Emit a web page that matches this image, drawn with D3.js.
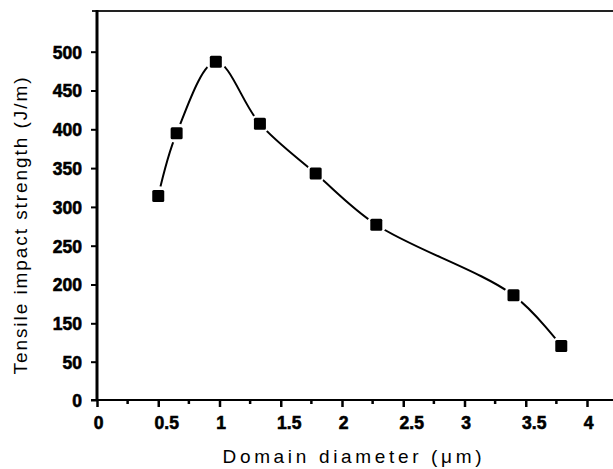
<!DOCTYPE html>
<head>
  <meta charset="utf-8">
  <script src="https://d3js.org/d3.v7.min.js"></script>
  <style>
    body { margin:0; background: white; }
    .tickText { font-family: 'Liberation Sans', Arial, sans-serif; font-weight: 700; font-size: 17.5px; fill: black; stroke: black; stroke-width: 0.6px; }
    .axisTitle { font-family: 'Liberation Sans', Arial, sans-serif; font-size: 19px; fill: black; }
  </style>
</head>
<body>
  <script>
    // data
    const diameter = [0.5, 0.65, 0.97, 1.33, 1.785, 2.28, 3.40, 3.79];
    const strength = [314, 395, 487, 407, 343, 277, 186, 91];

    // tick labels (the y axis is broken between 50 and 150)
    const xTicks = [0, 0.5, 1, 1.5, 2, 2.5, 3, 3.5, 4];
    const xMinorTicks = [0.25, 0.75, 1.25, 1.75, 2.25, 2.75, 3.25, 3.75];
    const yTicks = [0, 50, 150, 200, 250, 300, 350, 400, 450, 500];

    const width = 613, height = 469;

    const svg = d3.select('body')
                  .append('svg')
                  .attr('width', width)
                  .attr('height', height);

    // scales
    const x = d3.scaleLinear()
                .domain([0, 4])
                .range([97, 587]);

    // piecewise scale so 0 / 50 / 150 sit one tick step apart
    const y = d3.scaleLinear()
                .domain([0, 50, 150, 500])
                .range([400, 361.7, 323.3, 51.7]);

    // frame lines: top line, y axis, x axis
    svg.append('line')
       .attr('x1', 92).attr('x2', width)
       .attr('y1', 11).attr('y2', 11)
       .style('stroke', '#222').style('stroke-width', 2);

    svg.append('line')
       .attr('x1', x(0)).attr('x2', x(0))
       .attr('y1', 10).attr('y2', y(0) + 1)
       .style('stroke', 'black').style('stroke-width', 3);

    svg.append('line')
       .attr('x1', 91).attr('x2', width)
       .attr('y1', y(0)).attr('y2', y(0))
       .style('stroke', 'black').style('stroke-width', 2);

    // y axis ticks + labels
    const yAxis = d3.axisLeft(y)
                    .tickValues(yTicks)
                    .tickSize(6)
                    .tickPadding(9)
                    .tickFormat(d3.format('d'));
    const gy = svg.append('g')
                  .attr('transform', `translate(${x(0)},0)`)
                  .call(yAxis);
    gy.select('.domain').remove();
    gy.selectAll('.tick line').style('stroke', 'black').style('stroke-width', 2);
    gy.selectAll('.tick text').attr('class', 'tickText').attr('dy', '0.36em');

    // x axis, major ticks
    const xAxis = d3.axisBottom(x)
                    .tickValues(xTicks)
                    .tickSize(7)
                    .tickPadding(5)
                    .tickFormat(d => d);
    const gx = svg.append('g')
                  .attr('transform', `translate(0,${y(0)})`)
                  .call(xAxis);
    gx.select('.domain').remove();
    gx.selectAll('.tick line').style('stroke', 'black').style('stroke-width', 2.5);
    gx.selectAll('.tick text')
      .attr('class', 'tickText')
      .attr('dy', '0.95em')
      .attr('dx', d => Number.isInteger(d) ? 1 : 8);

    // x axis, minor ticks
    svg.append('g')
       .selectAll('line')
       .data(xMinorTicks)
       .enter()
       .append('line')
       .attr('x1', d => x(d)).attr('x2', d => x(d))
       .attr('y1', y(0)).attr('y2', y(0) + 4)
       .style('stroke', 'black').style('stroke-width', 2.5);

    // axis titles
    svg.append('text')
       .attr('class', 'axisTitle')
       .attr('x', 352).attr('y', 463)
       .attr('text-anchor', 'middle')
       .attr('textLength', 259)
       .attr('lengthAdjust', 'spacing')
       .text('Domain diameter (μm)');

    svg.append('text')
       .attr('class', 'axisTitle')
       .attr('transform', 'translate(27, 226) rotate(-90)')
       .attr('text-anchor', 'middle')
       .attr('textLength', 297)
       .attr('lengthAdjust', 'spacing')
       .text('Tensile impact strength (J/m)');

    // smoothed line through the points
    const points = diameter.map((d, i) => ({ x: d, y: strength[i] }));

    const line = d3.line()
                   .x(d => x(d.x))
                   .y(d => y(d.y))
                   .curve(d3.curveCatmullRom.alpha(0.5));

    svg.append('path')
       .datum(points)
       .attr('d', line)
       .style('fill', 'none')
       .style('stroke', 'black')
       .style('stroke-width', 2);

    // white halo makes the gap between line and marker
    svg.append('g')
       .selectAll('circle')
       .data(points)
       .enter()
       .append('circle')
       .attr('cx', d => x(d.x))
       .attr('cy', d => y(d.y))
       .attr('r', 10)
       .style('fill', 'white');

    // square markers
    svg.append('g')
       .selectAll('rect')
       .data(points)
       .enter()
       .append('rect')
       .attr('x', d => x(d.x) - 6)
       .attr('y', d => y(d.y) - 6)
       .attr('width', 12)
       .attr('height', 12)
       .attr('rx', 1.5)
       .style('fill', 'black');
  </script>
</body>
